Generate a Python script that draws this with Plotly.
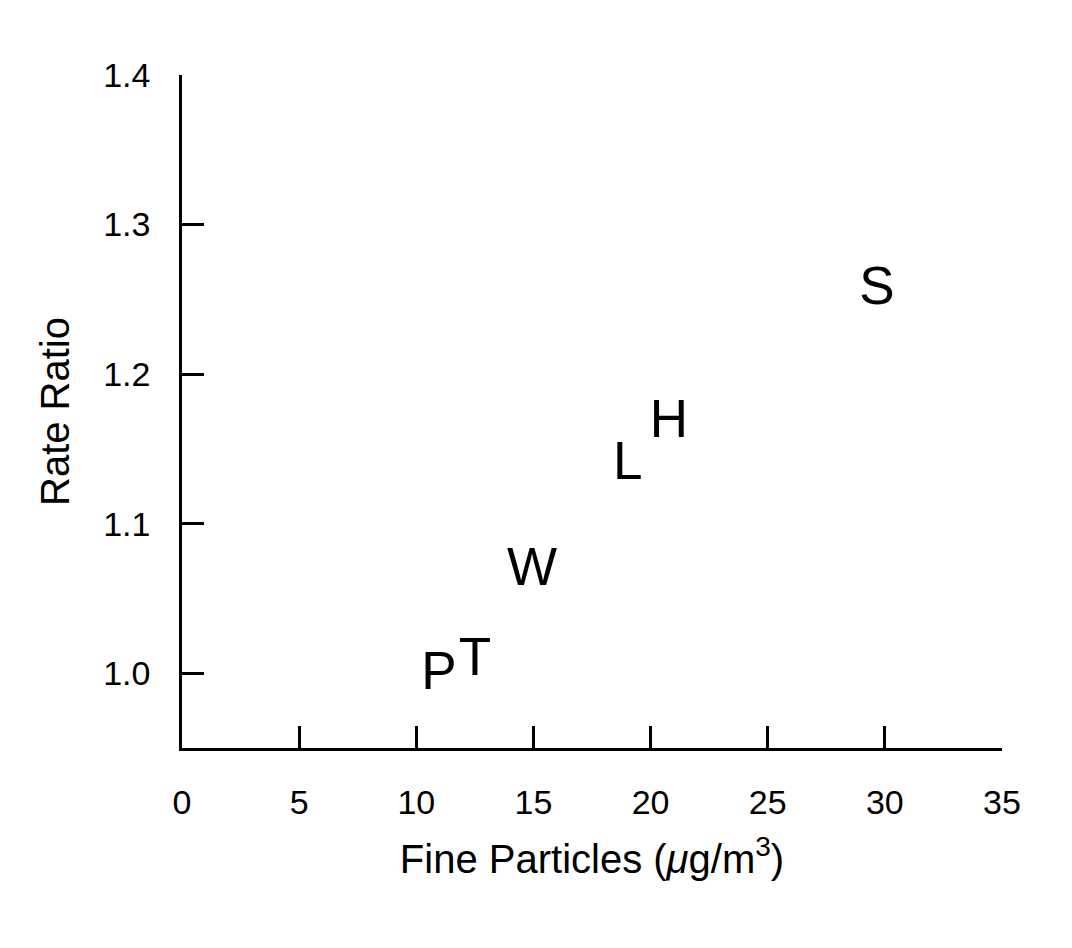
import plotly.graph_objects as go

# Data
cities = ["P", "T", "W", "L", "H", "S"]
fine_particles = [10.97, 12.5, 14.94, 19.03, 20.78, 29.66]
rate_ratio = [0.998, 1.008, 1.068, 1.139, 1.167, 1.256]

x_ticks = [0, 5, 10, 15, 20, 25, 30, 35]
y_ticks = [1.0, 1.1, 1.2, 1.3, 1.4]
y_tick_labels = ["1.0", "1.1", "1.2", "1.3", "1.4"]

FONT = "Liberation Sans, Arial, Helvetica, sans-serif"

fig = go.Figure()
fig.add_trace(go.Scatter(
    x=fine_particles, y=rate_ratio, text=cities,
    mode="text", textposition="middle center",
    textfont=dict(family=FONT, size=53, color="black"),
    hoverinfo="x+y+text", showlegend=False,
))

axis_common = dict(
    showline=True, linecolor="black", linewidth=2.5,
    ticks="inside", ticklen=22, tickwidth=2.5, tickcolor="black",
    showgrid=False, zeroline=False, mirror=False,
    tickfont=dict(family=FONT, size=34, color="black"),
)

fig.update_layout(
    width=1072, height=948,
    margin=dict(l=182, r=70, t=75, b=200),
    paper_bgcolor="white", plot_bgcolor="white",
    font=dict(family=FONT, color="black"),
    xaxis=dict(
        range=[0, 35], tickvals=x_ticks, ticktext=[str(v) for v in x_ticks],
        ticklabelstandoff=22,
        title=dict(text="Fine Particles (<i>μ</i>g/m<sup>3</sup>)",
                   font=dict(family=FONT, size=40, color="black"), standoff=26),
        **axis_common,
    ),
    yaxis=dict(
        range=[0.95, 1.4], tickvals=y_ticks, ticktext=y_tick_labels,
        ticklabelstandoff=22,
        title=dict(text="Rate Ratio",
                   font=dict(family=FONT, size=40, color="black"), standoff=22),
        **axis_common,
    ),
)

fig.write_html("out.html")
